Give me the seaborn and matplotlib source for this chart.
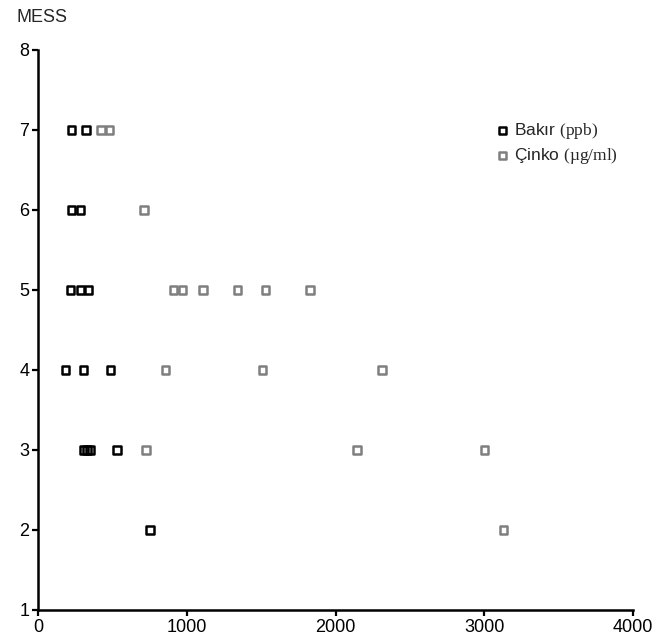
import numpy as np
import pandas as pd
import matplotlib
matplotlib.use("Agg")
import matplotlib.pyplot as plt
import seaborn as sns

# Bakır (ppb) values vs MESS score
bakir_x = [224, 320, 224, 284, 217, 284, 338, 183, 304, 486, 306, 327, 347, 529, 751]
bakir_y = [7, 7, 6, 6, 5, 5, 5, 4, 4, 4, 3, 3, 3, 3, 2]

# Çinko (µg/ml) values vs MESS score
cinko_x = [421, 477, 710, 910, 968, 1106, 1339, 1527, 1828, 854, 1507, 2311, 724, 2143, 3000, 3128]
cinko_y = [7, 7, 6, 5, 5, 5, 5, 5, 5, 4, 4, 4, 3, 3, 3, 2]

x_ticks = [0, 1000, 2000, 3000, 4000]
y_ticks = [1, 2, 3, 4, 5, 6, 7, 8]

sns.set_style("ticks")
plt.rcParams["font.family"] = ["Liberation Sans", "DejaVu Sans"]
plt.rcParams["mathtext.fontset"] = "custom"
plt.rcParams["mathtext.rm"] = "Liberation Serif"

fig = plt.figure(figsize=(6.61, 6.44), dpi=100)
ax = fig.add_axes([0.0582, 0.0528, 0.8994, 0.8696])

sns.scatterplot(x=bakir_x, y=bakir_y, ax=ax, marker="s", s=28,
                facecolors="none", edgecolors="black", linewidth=1.8,
                label=r"Bakır $\mathrm{(ppb)}$", clip_on=False, zorder=3)
sns.scatterplot(x=cinko_x, y=cinko_y, ax=ax, marker="s", s=28,
                facecolors="none", edgecolors="#7f7f7f", linewidth=1.8,
                label=r"Çinko $\mathrm{(µg/ml)}$", clip_on=False, zorder=3)

ax.set_xlim(0, 4000)
ax.set_ylim(1, 8)
ax.set_xticks(x_ticks)
ax.set_yticks(y_ticks)
ax.set_xlabel("")
ax.set_ylabel("")
for side in ["top", "right"]:
    ax.spines[side].set_visible(False)
for side in ["left", "bottom"]:
    ax.spines[side].set_linewidth(1.8)
    ax.spines[side].set_color("black")
ax.tick_params(axis="both", length=4.5, width=1.6, color="black",
               labelsize=13, labelcolor="black", pad=2)

fig.text(16 / 661, 1 - 17 / 644, "MESS", fontsize=13, ha="left", va="center")

leg = ax.legend(loc="upper left", bbox_to_anchor=(0.752, 0.812),
                bbox_transform=fig.transFigure, frameon=False, fontsize=12.5,
                handlelength=0.6, handletextpad=0.4, labelspacing=0.3,
                borderpad=0, borderaxespad=0)

plt.savefig("out.png", dpi=100)
